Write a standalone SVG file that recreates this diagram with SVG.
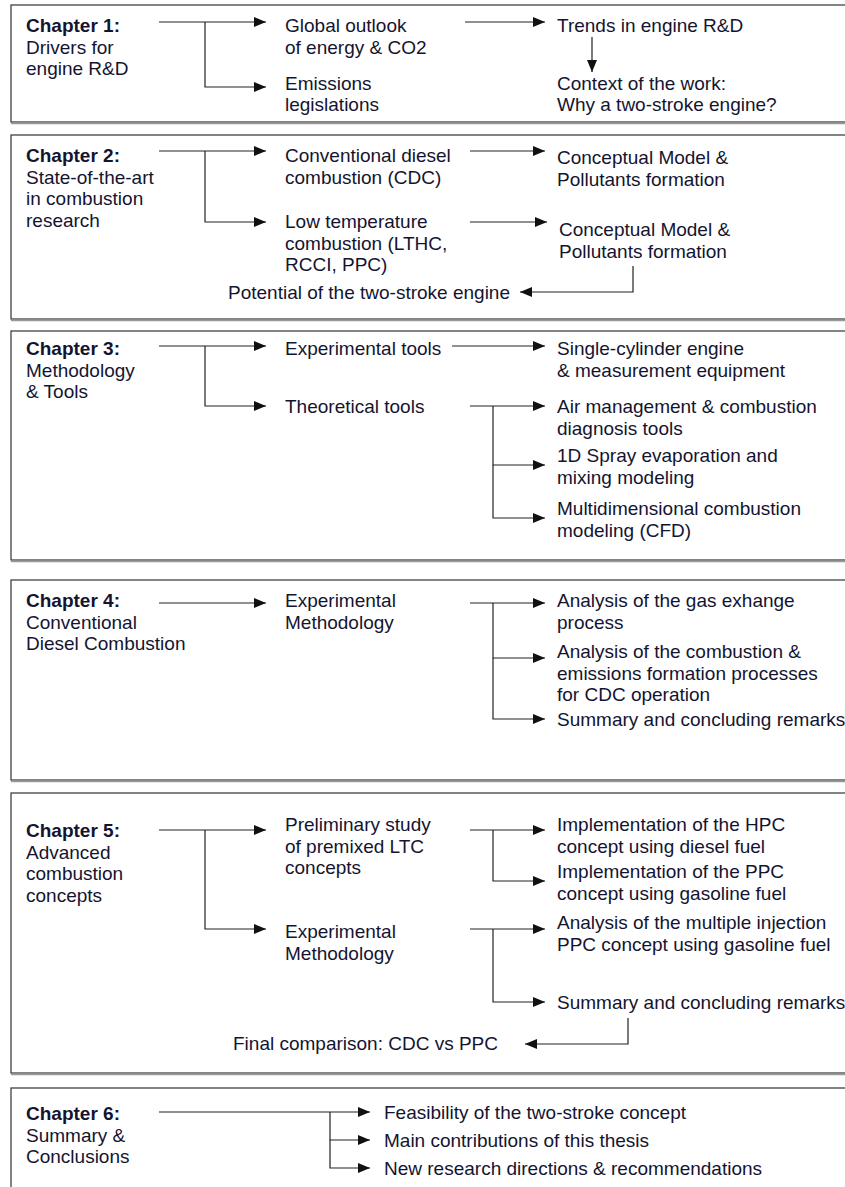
<svg xmlns="http://www.w3.org/2000/svg" width="845" height="1187" viewBox="0 0 845 1187">
<style>
text{font-family:"Liberation Sans",Arial,sans-serif;font-size:19px;fill:#141430}
.b{font-weight:bold}
.frame{fill:none;stroke:#333;stroke-width:1.2}
.shadow{stroke:#999;stroke-width:1.5}
.c{fill:none;stroke:#222;stroke-width:1.2}
.a{marker-end:url(#ah)}
</style>
<defs>
<marker id="ah" viewBox="0 0 12 10" refX="12" refY="5" markerWidth="12" markerHeight="10" markerUnits="userSpaceOnUse" orient="auto">
<path d="M0,0 L12,5 L0,10 z" fill="#111"/>
</marker>
</defs>
<rect width="845" height="1187" fill="#fff"/>
<g id="frames">
<rect class="frame" x="11" y="5" width="850" height="117"/><line class="shadow" x1="11" y1="123.5" x2="845" y2="123.5"/>
<rect class="frame" x="11" y="135" width="850" height="184"/><line class="shadow" x1="11" y1="320.5" x2="845" y2="320.5"/>
<rect class="frame" x="11" y="331" width="850" height="229"/><line class="shadow" x1="11" y1="561.5" x2="845" y2="561.5"/>
<rect class="frame" x="11" y="580" width="850" height="200"/><line class="shadow" x1="11" y1="781.5" x2="845" y2="781.5"/>
<rect class="frame" x="11" y="793" width="850" height="280"/><line class="shadow" x1="11" y1="1074.5" x2="845" y2="1074.5"/>
<rect class="frame" x="11" y="1088" width="850" height="130"/>
</g>
<g id="connectors">
<path class="c a" d="M159,22 H266"/>
<path class="c a" d="M205,22 V87 H266"/>
<path class="c a" d="M465,22 H545"/>
<path class="c a" d="M592,37 V72"/>
<path class="c a" d="M159,151 H266"/>
<path class="c a" d="M205,151 V222 H266"/>
<path class="c a" d="M470,151 H545"/>
<path class="c a" d="M470,222 H547"/>
<path class="c a" d="M633,266 V292 H520"/>
<path class="c a" d="M159,346 H266"/>
<path class="c a" d="M205,346 V406 H266"/>
<path class="c a" d="M452,346 H545"/>
<path class="c a" d="M470,406 H545"/>
<path class="c a" d="M493,406 V465 H545"/>
<path class="c a" d="M493,465 V518 H545"/>
<path class="c a" d="M159,603 H266"/>
<path class="c a" d="M470,603 H545"/>
<path class="c a" d="M493,603 V658 H545"/>
<path class="c a" d="M493,658 V719 H545"/>
<path class="c a" d="M159,830 H266"/>
<path class="c a" d="M205,830 V929 H266"/>
<path class="c a" d="M470,830 H545"/>
<path class="c a" d="M493,830 V881 H545"/>
<path class="c a" d="M470,929 H545"/>
<path class="c a" d="M493,929 V1002 H545"/>
<path class="c a" d="M628,1018 V1044 H525"/>
<path class="c a" d="M159,1112 H370"/>
<path class="c a" d="M330,1112 V1140 H370"/>
<path class="c a" d="M330,1140 V1168 H370"/>
</g>
<g id="ch1">
<text x="26" y="32"><tspan class="b">Chapter 1:</tspan><tspan x="26" dy="21.5">Drivers for</tspan><tspan x="26" dy="21.5">engine R&amp;D</tspan></text>
</g>
<g id="ch1-global"><text x="285" y="32">Global outlook<tspan x="285" dy="21.5">of energy &amp; CO2</tspan></text></g>
<g id="ch1-emissions"><text x="285" y="90">Emissions<tspan x="285" dy="21">legislations</tspan></text></g>
<g id="ch1-trends"><text x="557" y="32">Trends in engine R&amp;D</text></g>
<g id="ch1-context"><text x="557" y="90">Context of the work:<tspan x="557" dy="21">Why a two-stroke engine?</tspan></text></g>

<g id="ch2">
<text x="26" y="162"><tspan class="b">Chapter 2:</tspan><tspan x="26" dy="21.5">State-of-the-art</tspan><tspan x="26" dy="21.5">in combustion</tspan><tspan x="26" dy="21.5">research</tspan></text>
</g>
<g id="ch2-cdc"><text x="285" y="162">Conventional diesel<tspan x="285" dy="21.5">combustion (CDC)</tspan></text></g>
<g id="ch2-cm1"><text x="557" y="164">Conceptual Model &amp;<tspan x="557" dy="21.5">Pollutants formation</tspan></text></g>
<g id="ch2-ltc"><text x="285" y="228">Low temperature<tspan x="285" dy="21.5">combustion (LTHC,</tspan><tspan x="285" dy="21.5">RCCI, PPC)</tspan></text></g>
<g id="ch2-cm2"><text x="559" y="236">Conceptual Model &amp;<tspan x="559" dy="21.5">Pollutants formation</tspan></text></g>
<g id="ch2-potential"><text x="228" y="299">Potential of the two-stroke engine</text></g>

<g id="ch3">
<text x="26" y="355"><tspan class="b">Chapter 3:</tspan><tspan x="26" dy="21.5">Methodology</tspan><tspan x="26" dy="21.5">&amp; Tools</tspan></text>
</g>
<g id="ch3-exp"><text x="285" y="355">Experimental tools</text></g>
<g id="ch3-single"><text x="557" y="355">Single-cylinder engine<tspan x="557" dy="21.5">&amp; measurement equipment</tspan></text></g>
<g id="ch3-theo"><text x="285" y="413">Theoretical tools</text></g>
<g id="ch3-air"><text x="557" y="413">Air management &amp; combustion<tspan x="557" dy="21.5">diagnosis tools</tspan></text></g>
<g id="ch3-spray"><text x="557" y="462">1D Spray evaporation and<tspan x="557" dy="21.5">mixing modeling</tspan></text></g>
<g id="ch3-cfd"><text x="557" y="515">Multidimensional combustion<tspan x="557" dy="21.5">modeling (CFD)</tspan></text></g>

<g id="ch4">
<text x="26" y="607"><tspan class="b">Chapter 4:</tspan><tspan x="26" dy="21.5">Conventional</tspan><tspan x="26" dy="21.5">Diesel Combustion</tspan></text>
</g>
<g id="ch4-exp"><text x="285" y="607">Experimental<tspan x="285" dy="21.5">Methodology</tspan></text></g>
<g id="ch4-gas"><text x="557" y="607">Analysis of the gas exhange<tspan x="557" dy="21.5">process</tspan></text></g>
<g id="ch4-comb"><text x="557" y="658">Analysis of the combustion &amp;<tspan x="557" dy="21.5">emissions formation processes</tspan><tspan x="557" dy="21.5">for CDC operation</tspan></text></g>
<g id="ch4-sum"><text x="557" y="726">Summary and concluding remarks</text></g>

<g id="ch5">
<text x="26" y="837"><tspan class="b">Chapter 5:</tspan><tspan x="26" dy="21.5">Advanced</tspan><tspan x="26" dy="21.5">combustion</tspan><tspan x="26" dy="21.5">concepts</tspan></text>
</g>
<g id="ch5-pre"><text x="285" y="831">Preliminary study<tspan x="285" dy="21.5">of premixed LTC</tspan><tspan x="285" dy="21.5">concepts</tspan></text></g>
<g id="ch5-hpc"><text x="557" y="831">Implementation of the HPC<tspan x="557" dy="21.5">concept using diesel fuel</tspan></text></g>
<g id="ch5-ppc"><text x="557" y="878">Implementation of the PPC<tspan x="557" dy="21.5">concept using gasoline fuel</tspan></text></g>
<g id="ch5-exp"><text x="285" y="938">Experimental<tspan x="285" dy="21.5">Methodology</tspan></text></g>
<g id="ch5-multi"><text x="557" y="929">Analysis of the multiple injection<tspan x="557" dy="21.5">PPC concept using gasoline fuel</tspan></text></g>
<g id="ch5-sum"><text x="557" y="1009">Summary and concluding remarks</text></g>
<g id="ch5-final"><text x="233" y="1050">Final comparison: CDC vs PPC</text></g>

<g id="ch6">
<text x="26" y="1120"><tspan class="b">Chapter 6:</tspan><tspan x="26" dy="21.5">Summary &amp;</tspan><tspan x="26" dy="21.5">Conclusions</tspan></text>
</g>
<g id="ch6-feas"><text x="384" y="1119">Feasibility of the two-stroke concept</text></g>
<g id="ch6-main"><text x="384" y="1147">Main contributions of this thesis</text></g>
<g id="ch6-new"><text x="384" y="1175">New research directions &amp; recommendations</text></g>
</svg>
